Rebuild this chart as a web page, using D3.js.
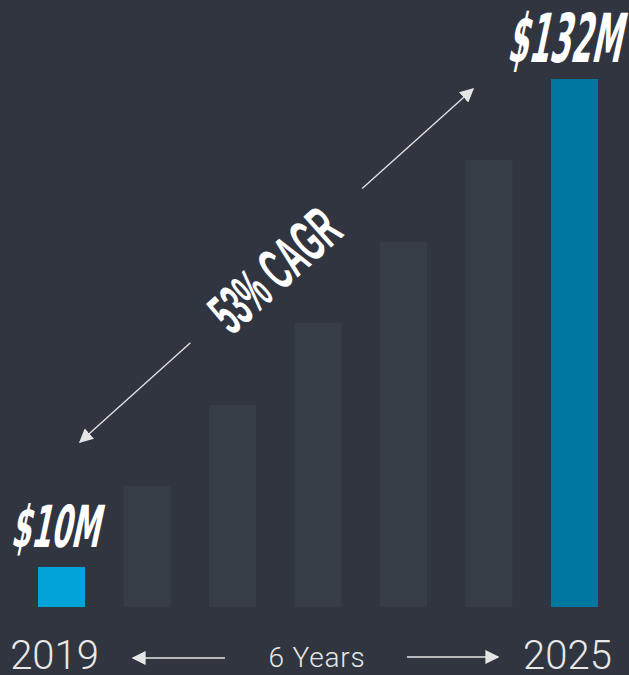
<!DOCTYPE html>
<html>
<head>
<meta charset="utf-8">
<script src="https://cdn.jsdelivr.net/npm/d3@7"></script>
<style>
  html, body { margin: 0; padding: 0; background: #30353f; }
  svg { display: block; }
</style>
</head>
<body>
<svg id="chart" width="629" height="675"></svg>
<script>
// Data
const years  = [2019, 2020, 2021, 2022, 2023, 2024, 2025];
const values = [10, 30.3, 50.5, 71, 91.3, 111.8, 132];   // $M, middle bars are illustrative
const labels = ["$10M", "", "", "", "", "", "$132M"];
const cagrText = "53% CAGR";
const spanText = "6 Years";

const svg = d3.select("#chart");
const W = +svg.attr("width"), H = +svg.attr("height");

svg.append("rect").attr("width", W).attr("height", H).attr("fill", "#30353f");

const x = d3.scaleBand().domain(years).range([38, 598]).paddingInner(0.45).paddingOuter(0);
const y = d3.scaleLinear().domain([0, 132]).range([607, 79]);
const last = years.length - 1;

const barColor = (d, i) => i === 0 ? "#00a4d6" : i === last ? "#00779f" : "#373d47";

svg.append("g").selectAll("rect")
  .data(years)
  .join("rect")
    .attr("x", d => x(d))
    .attr("y", (d, i) => y(values[i]))
    .attr("width", x.bandwidth())
    .attr("height", (d, i) => y(0) - y(values[i]))
    .attr("fill", barColor);

// brush-ish value labels
const brushFont = "'DejaVu Sans Condensed', 'DejaVu Sans', sans-serif";
[0, last].forEach(i => {
  const cx = x(years[i]) + x.bandwidth() / 2;
  const big = i === last;
  svg.append("text")
    .attr("transform", `translate(${cx - (big ? 11 : 7)},${y(values[i]) - (big ? 17 : 20)}) skewX(-12) scale(${big ? 0.67 : 0.8},${big ? 1.35 : 1.45})`)
    .attr("text-anchor", "middle")
    .attr("font-family", brushFont)
    .attr("font-weight", "bold")
    .attr("font-size", big ? 50 : 40)
    .attr("fill", "#ffffff")
    .text(labels[i]);
});

// arrow markers
const defs = svg.append("defs");
defs.append("marker")
  .attr("id", "head")
  .attr("viewBox", "0 0 10 10")
  .attr("refX", 9).attr("refY", 5)
  .attr("markerWidth", 14).attr("markerHeight", 14)
  .attr("markerUnits", "userSpaceOnUse")
  .attr("orient", "auto")
  .append("path").attr("d", "M0,0 L10,5 L0,10 Z").attr("fill", "#e6e6e6");

// CAGR diagonal arrow
const a0 = [80, 442], a1 = [473, 89];
const ang = Math.atan2(a1[1] - a0[1], a1[0] - a0[0]) * 180 / Math.PI;
const lerp = t => [a0[0] + (a1[0] - a0[0]) * t, a0[1] + (a1[1] - a0[1]) * t];
const gapA = lerp(0.281), gapB = lerp(0.718);

svg.append("line")
  .attr("x1", gapA[0]).attr("y1", gapA[1]).attr("x2", a0[0]).attr("y2", a0[1])
  .attr("stroke", "#e6e6e6").attr("stroke-width", 1.3).attr("marker-end", "url(#head)");
svg.append("line")
  .attr("x1", gapB[0]).attr("y1", gapB[1]).attr("x2", a1[0]).attr("y2", a1[1])
  .attr("stroke", "#e6e6e6").attr("stroke-width", 1.3).attr("marker-end", "url(#head)");

const mid = lerp(0.5);
svg.append("text")
  .attr("transform", `translate(${mid[0] + 12},${mid[1] + 20}) rotate(${ang}) scale(0.485,1)`)
  .attr("text-anchor", "middle")
  .attr("font-family", "'Liberation Sans', Arial, sans-serif")
  .attr("font-weight", "bold")
  .attr("font-size", 60)
  .attr("fill", "#ffffff")
  .text(cagrText);

// bottom labels
const lightFont = "Roboto, 'Open Sans', sans-serif";
[0, last].forEach(i => {
  svg.append("text")
    .attr("x", x(years[i]) + x.bandwidth() / 2 - 7)
    .attr("y", 669)
    .attr("text-anchor", "middle")
    .attr("font-family", lightFont)
    .attr("font-weight", 300)
    .attr("font-size", 40)
    .attr("fill", "#e8e8e8")
    .text(years[i]);
});

svg.append("text")
  .attr("x", 317).attr("y", 667)
  .attr("text-anchor", "middle")
  .attr("font-family", lightFont)
  .attr("font-weight", 300)
  .attr("font-size", 28)
  .attr("letter-spacing", 0.8)
  .attr("fill", "#e8e8e8")
  .text(spanText);

svg.append("line")
  .attr("x1", 225).attr("y1", 658).attr("x2", 133).attr("y2", 658)
  .attr("stroke", "#e6e6e6").attr("stroke-width", 1.5).attr("marker-end", "url(#head)");
svg.append("line")
  .attr("x1", 407).attr("y1", 657).attr("x2", 498).attr("y2", 657)
  .attr("stroke", "#e6e6e6").attr("stroke-width", 1.5).attr("marker-end", "url(#head)");
</script>
</body>
</html>
